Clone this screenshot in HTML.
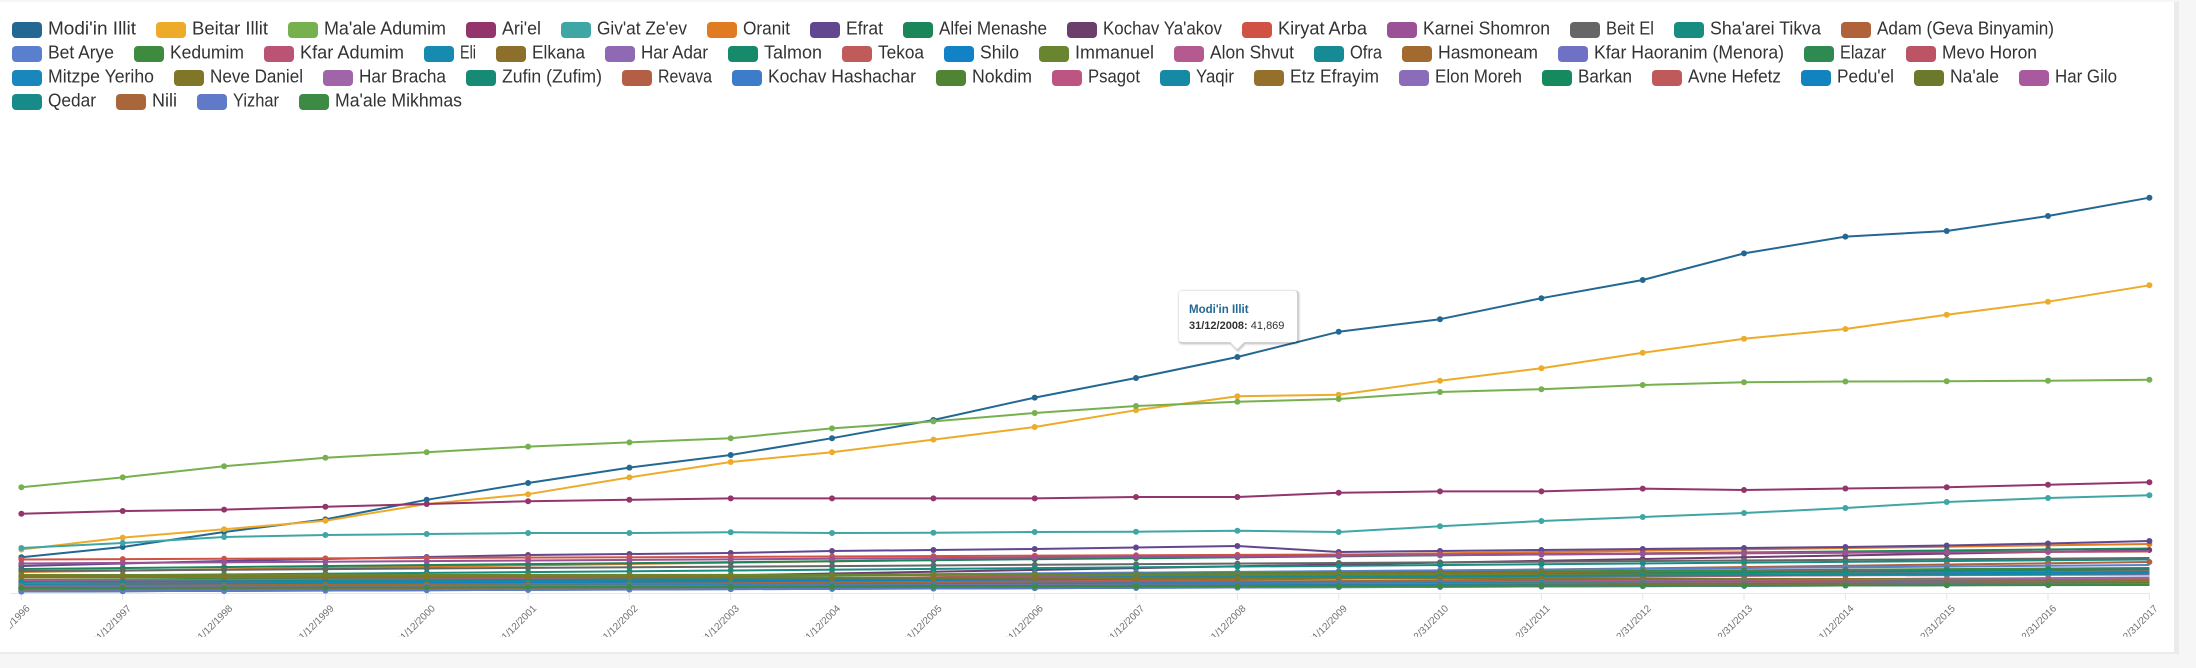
<!DOCTYPE html>
<html>
<head>
<meta charset="utf-8">
<style>
html,body{margin:0;padding:0;background:#f6f6f6;}
body{width:2196px;height:668px;overflow:hidden;}
svg{display:block;}
.lg text{font-family:"Liberation Sans",sans-serif;font-size:18.5px;fill:#333;}
.xl text{font-family:"Liberation Sans",sans-serif;font-size:10px;fill:#707070;}
.l{stroke-width:2;fill:none;}
.d{stroke-width:6;stroke-linecap:round;stroke-dasharray:0 101.34;fill:none;}
.pl{stroke-width:2;fill:none;stroke-linejoin:round;}
</style>
</head>
<body>
<svg width="2196" height="668" viewBox="0 0 2196 668" xmlns="http://www.w3.org/2000/svg">
<defs>
<clipPath id="lblclip"><rect x="10" y="595" width="2164" height="42"/></clipPath>
<marker id="mA" markerUnits="userSpaceOnUse" markerWidth="8" markerHeight="8" refX="4" refY="4" overflow="visible"><circle cx="4" cy="4" r="3" fill="#236892"/></marker>
<marker id="mB" markerUnits="userSpaceOnUse" markerWidth="8" markerHeight="8" refX="4" refY="4" overflow="visible"><circle cx="4" cy="4" r="3" fill="#eeab29"/></marker>
<marker id="mC" markerUnits="userSpaceOnUse" markerWidth="8" markerHeight="8" refX="4" refY="4" overflow="visible"><circle cx="4" cy="4" r="3" fill="#76b04f"/></marker>
<marker id="mD" markerUnits="userSpaceOnUse" markerWidth="8" markerHeight="8" refX="4" refY="4" overflow="visible"><circle cx="4" cy="4" r="3" fill="#94346c"/></marker>
<marker id="mE" markerUnits="userSpaceOnUse" markerWidth="8" markerHeight="8" refX="4" refY="4" overflow="visible"><circle cx="4" cy="4" r="3" fill="#3fa6a6"/></marker>
<marker id="mF" markerUnits="userSpaceOnUse" markerWidth="8" markerHeight="8" refX="4" refY="4" overflow="visible"><circle cx="4" cy="4" r="3" fill="#624790"/></marker>
</defs>
<rect x="0" y="0" width="2196" height="668" fill="#f6f6f6"/>
<rect x="2174" y="2" width="5" height="652" fill="#ebebeb"/>
<rect x="0" y="652" width="2179" height="2" fill="#ebebeb"/>
<rect x="0" y="2" width="2174" height="650" fill="#ffffff"/>

<g class="lg">
<rect x="12" y="22" width="30" height="16" rx="4" fill="#236892"/><text x="48" y="34.5" textLength="88" lengthAdjust="spacingAndGlyphs">Modi'in Illit</text>
<rect x="156" y="22" width="30" height="16" rx="4" fill="#eeab29"/><text x="192" y="34.5" textLength="76" lengthAdjust="spacingAndGlyphs">Beitar Illit</text>
<rect x="288" y="22" width="30" height="16" rx="4" fill="#76b04f"/><text x="324" y="34.5" textLength="122" lengthAdjust="spacingAndGlyphs">Ma'ale Adumim</text>
<rect x="466" y="22" width="30" height="16" rx="4" fill="#94346c"/><text x="502" y="34.5" textLength="39" lengthAdjust="spacingAndGlyphs">Ari'el</text>
<rect x="561" y="22" width="30" height="16" rx="4" fill="#3fa6a6"/><text x="597" y="34.5" textLength="90" lengthAdjust="spacingAndGlyphs">Giv'at Ze'ev</text>
<rect x="707" y="22" width="30" height="16" rx="4" fill="#e07b21"/><text x="743" y="34.5" textLength="47" lengthAdjust="spacingAndGlyphs">Oranit</text>
<rect x="810" y="22" width="30" height="16" rx="4" fill="#624790"/><text x="846" y="34.5" textLength="37" lengthAdjust="spacingAndGlyphs">Efrat</text>
<rect x="903" y="22" width="30" height="16" rx="4" fill="#1a8659"/><text x="939" y="34.5" textLength="108" lengthAdjust="spacingAndGlyphs">Alfei Menashe</text>
<rect x="1067" y="22" width="30" height="16" rx="4" fill="#6c3e6c"/><text x="1103" y="34.5" textLength="119" lengthAdjust="spacingAndGlyphs">Kochav Ya'akov</text>
<rect x="1242" y="22" width="30" height="16" rx="4" fill="#cf5244"/><text x="1278" y="34.5" textLength="89" lengthAdjust="spacingAndGlyphs">Kiryat Arba</text>
<rect x="1387" y="22" width="30" height="16" rx="4" fill="#9a5196"/><text x="1423" y="34.5" textLength="127" lengthAdjust="spacingAndGlyphs">Karnei Shomron</text>
<rect x="1570" y="22" width="30" height="16" rx="4" fill="#666666"/><text x="1606" y="34.5" textLength="48" lengthAdjust="spacingAndGlyphs">Beit El</text>
<rect x="1674" y="22" width="30" height="16" rx="4" fill="#178c80"/><text x="1710" y="34.5" textLength="111" lengthAdjust="spacingAndGlyphs">Sha'arei Tikva</text>
<rect x="1841" y="22" width="30" height="16" rx="4" fill="#b0633a"/><text x="1877" y="34.5" textLength="177" lengthAdjust="spacingAndGlyphs">Adam (Geva Binyamin)</text>
<rect x="12" y="46" width="30" height="16" rx="4" fill="#5b7fcf"/><text x="48" y="58.5" textLength="66" lengthAdjust="spacingAndGlyphs">Bet Arye</text>
<rect x="134" y="46" width="30" height="16" rx="4" fill="#3e8a3e"/><text x="170" y="58.5" textLength="74" lengthAdjust="spacingAndGlyphs">Kedumim</text>
<rect x="264" y="46" width="30" height="16" rx="4" fill="#bb5474"/><text x="300" y="58.5" textLength="104" lengthAdjust="spacingAndGlyphs">Kfar Adumim</text>
<rect x="424" y="46" width="30" height="16" rx="4" fill="#168aaf"/><text x="460" y="58.5" textLength="16" lengthAdjust="spacingAndGlyphs">Eli</text>
<rect x="496" y="46" width="30" height="16" rx="4" fill="#8b6f2a"/><text x="532" y="58.5" textLength="53" lengthAdjust="spacingAndGlyphs">Elkana</text>
<rect x="605" y="46" width="30" height="16" rx="4" fill="#8f69b4"/><text x="641" y="58.5" textLength="67" lengthAdjust="spacingAndGlyphs">Har Adar</text>
<rect x="728" y="46" width="30" height="16" rx="4" fill="#168a6b"/><text x="764" y="58.5" textLength="58" lengthAdjust="spacingAndGlyphs">Talmon</text>
<rect x="842" y="46" width="30" height="16" rx="4" fill="#bf5b58"/><text x="878" y="58.5" textLength="46" lengthAdjust="spacingAndGlyphs">Tekoa</text>
<rect x="944" y="46" width="30" height="16" rx="4" fill="#1282c7"/><text x="980" y="58.5" textLength="39" lengthAdjust="spacingAndGlyphs">Shilo</text>
<rect x="1039" y="46" width="30" height="16" rx="4" fill="#6a8530"/><text x="1075" y="58.5" textLength="79" lengthAdjust="spacingAndGlyphs">Immanuel</text>
<rect x="1174" y="46" width="30" height="16" rx="4" fill="#b45a90"/><text x="1210" y="58.5" textLength="84" lengthAdjust="spacingAndGlyphs">Alon Shvut</text>
<rect x="1314" y="46" width="30" height="16" rx="4" fill="#168a95"/><text x="1350" y="58.5" textLength="32" lengthAdjust="spacingAndGlyphs">Ofra</text>
<rect x="1402" y="46" width="30" height="16" rx="4" fill="#a36a30"/><text x="1438" y="58.5" textLength="100" lengthAdjust="spacingAndGlyphs">Hasmoneam</text>
<rect x="1558" y="46" width="30" height="16" rx="4" fill="#6f72c4"/><text x="1594" y="58.5" textLength="190" lengthAdjust="spacingAndGlyphs">Kfar Haoranim (Menora)</text>
<rect x="1804" y="46" width="30" height="16" rx="4" fill="#2e8a50"/><text x="1840" y="58.5" textLength="46" lengthAdjust="spacingAndGlyphs">Elazar</text>
<rect x="1906" y="46" width="30" height="16" rx="4" fill="#bd5466"/><text x="1942" y="58.5" textLength="95" lengthAdjust="spacingAndGlyphs">Mevo Horon</text>
<rect x="12" y="70" width="30" height="16" rx="4" fill="#1987bb"/><text x="48" y="82.5" textLength="106" lengthAdjust="spacingAndGlyphs">Mitzpe Yeriho</text>
<rect x="174" y="70" width="30" height="16" rx="4" fill="#7f7628"/><text x="210" y="82.5" textLength="93" lengthAdjust="spacingAndGlyphs">Neve Daniel</text>
<rect x="323" y="70" width="30" height="16" rx="4" fill="#a064a8"/><text x="359" y="82.5" textLength="87" lengthAdjust="spacingAndGlyphs">Har Bracha</text>
<rect x="466" y="70" width="30" height="16" rx="4" fill="#168a75"/><text x="502" y="82.5" textLength="100" lengthAdjust="spacingAndGlyphs">Zufin (Zufim)</text>
<rect x="622" y="70" width="30" height="16" rx="4" fill="#b45f45"/><text x="658" y="82.5" textLength="54" lengthAdjust="spacingAndGlyphs">Revava</text>
<rect x="732" y="70" width="30" height="16" rx="4" fill="#3d7cc8"/><text x="768" y="82.5" textLength="148" lengthAdjust="spacingAndGlyphs">Kochav Hashachar</text>
<rect x="936" y="70" width="30" height="16" rx="4" fill="#4f8434"/><text x="972" y="82.5" textLength="60" lengthAdjust="spacingAndGlyphs">Nokdim</text>
<rect x="1052" y="70" width="30" height="16" rx="4" fill="#bd5583"/><text x="1088" y="82.5" textLength="52" lengthAdjust="spacingAndGlyphs">Psagot</text>
<rect x="1160" y="70" width="30" height="16" rx="4" fill="#168aa5"/><text x="1196" y="82.5" textLength="38" lengthAdjust="spacingAndGlyphs">Yaqir</text>
<rect x="1254" y="70" width="30" height="16" rx="4" fill="#94702c"/><text x="1290" y="82.5" textLength="89" lengthAdjust="spacingAndGlyphs">Etz Efrayim</text>
<rect x="1399" y="70" width="30" height="16" rx="4" fill="#8a6cb8"/><text x="1435" y="82.5" textLength="87" lengthAdjust="spacingAndGlyphs">Elon Moreh</text>
<rect x="1542" y="70" width="30" height="16" rx="4" fill="#168a5e"/><text x="1578" y="82.5" textLength="54" lengthAdjust="spacingAndGlyphs">Barkan</text>
<rect x="1652" y="70" width="30" height="16" rx="4" fill="#c05a5a"/><text x="1688" y="82.5" textLength="93" lengthAdjust="spacingAndGlyphs">Avne Hefetz</text>
<rect x="1801" y="70" width="30" height="16" rx="4" fill="#1383c0"/><text x="1837" y="82.5" textLength="57" lengthAdjust="spacingAndGlyphs">Pedu'el</text>
<rect x="1914" y="70" width="30" height="16" rx="4" fill="#6b7a2a"/><text x="1950" y="82.5" textLength="49" lengthAdjust="spacingAndGlyphs">Na'ale</text>
<rect x="2019" y="70" width="30" height="16" rx="4" fill="#a9599e"/><text x="2055" y="82.5" textLength="62" lengthAdjust="spacingAndGlyphs">Har Gilo</text>
<rect x="12" y="94" width="30" height="16" rx="4" fill="#178a8a"/><text x="48" y="106.5" textLength="48" lengthAdjust="spacingAndGlyphs">Qedar</text>
<rect x="116" y="94" width="30" height="16" rx="4" fill="#a8663a"/><text x="152" y="106.5" textLength="25" lengthAdjust="spacingAndGlyphs">Nili</text>
<rect x="197" y="94" width="30" height="16" rx="4" fill="#5f7ac8"/><text x="233" y="106.5" textLength="46" lengthAdjust="spacingAndGlyphs">Yizhar</text>
<rect x="299" y="94" width="30" height="16" rx="4" fill="#3d8a45"/><text x="335" y="106.5" textLength="127" lengthAdjust="spacingAndGlyphs">Ma'ale Mikhmas</text>
</g>

<!-- x axis -->
<line x1="10" y1="593.5" x2="2150" y2="593.5" stroke="#e6e6e6" stroke-width="1"/>
<path d="M21.4 593V600M122.7 593V600M224.1 593V600M325.4 593V600M426.7 593V600M528.1 593V600M629.4 593V600M730.7 593V600M832 593V600M933.4 593V600M1034.7 593V600M1136 593V600M1237.4 593V600M1338.7 593V600M1440 593V600M1541.4 593V600M1642.7 593V600M1744 593V600M1845.4 593V600M1946.7 593V600M2048 593V600M2149.4 593V600" stroke="#e6e6e6" stroke-width="1" fill="none"/>

<!-- big series -->
<polyline class="pl" stroke="#236892" marker-start="url(#mA)" marker-mid="url(#mA)" marker-end="url(#mA)" points="21.4,557.3 122.7,547 224.1,532 325.4,519.4 426.7,499.8 528.1,483 629.4,467.6 730.7,455 832,438.2 933.4,420 1034.7,397.6 1136,378 1237.4,357 1338.7,331.8 1440,319.2 1541.4,298.2 1642.7,280 1744,253.4 1845.4,236.6 1946.7,231 2048,216 2149.4,197.7"/>
<polyline class="pl" stroke="#eeab29" marker-start="url(#mB)" marker-mid="url(#mB)" marker-end="url(#mB)" points="21.4,549.5 122.7,537.6 224.1,529.2 325.4,520.8 426.7,504 528.1,494.2 629.4,477.4 730.7,462 832,452.2 933.4,439.6 1034.7,427 1136,410.2 1237.4,396.2 1338.7,394.8 1440,380.8 1541.4,368.2 1642.7,352.8 1744,338.8 1845.4,329 1946.7,314.7 2048,301.7 2149.4,285.3"/>
<polyline class="pl" stroke="#76b04f" marker-start="url(#mC)" marker-mid="url(#mC)" marker-end="url(#mC)" points="21.4,487.2 122.7,477.4 224.1,466.2 325.4,457.8 426.7,452.2 528.1,446.6 629.4,442.4 730.7,438.2 832,428.4 933.4,421.4 1034.7,413 1136,406 1237.4,401.8 1338.7,399 1440,392 1541.4,389.2 1642.7,385 1744,382.2 1845.4,381.5 1946.7,381.3 2048,380.7 2149.4,379.7"/>
<polyline class="pl" stroke="#94346c" marker-start="url(#mD)" marker-mid="url(#mD)" marker-end="url(#mD)" points="21.4,513.8 122.7,511 224.1,509.6 325.4,506.8 426.7,504 528.1,501.2 629.4,499.8 730.7,498.4 832,498.4 933.4,498.4 1034.7,498.4 1136,497 1237.4,497 1338.7,492.8 1440,491.4 1541.4,491.4 1642.7,488.6 1744,490 1845.4,488.5 1946.7,487.3 2048,484.7 2149.4,482.3"/>
<polyline class="pl" stroke="#3fa6a6" marker-start="url(#mE)" marker-mid="url(#mE)" marker-end="url(#mE)" points="21.4,548 122.7,543 224.1,537 325.4,535 426.7,534 528.1,533 629.4,533 730.7,532.3 832,533 933.4,532.7 1034.7,532 1136,531.7 1237.4,530.7 1338.7,532 1440,526.3 1541.4,521 1642.7,517 1744,513 1845.4,508 1946.7,502 2048,498 2149.4,495.3"/>

<!-- minor series -->
<g>
<line class="l" stroke="#e07b21" x1="21.4" y1="572" x2="2149.4" y2="544"/><line class="d" stroke="#e07b21" x1="21.4" y1="572" x2="2149.4" y2="544"/>
<polyline class="pl" stroke="#624790" marker-start="url(#mF)" marker-mid="url(#mF)" marker-end="url(#mF)" points="21.4,566 122.7,563.5 224.1,561 325.4,559 426.7,557 528.1,555 629.4,554 730.7,553 832,551 933.4,550 1034.7,549 1136,547.5 1237.4,546 1338.7,552 1440,551 1541.4,550 1642.7,549 1744,548 1845.4,547 1946.7,545.5 2048,543.5 2149.4,541"/>
<line class="l" stroke="#1a8659" x1="21.4" y1="569" x2="2149.4" y2="548.5"/><line class="d" stroke="#1a8659" x1="21.4" y1="569" x2="2149.4" y2="548.5"/>
<line class="l" stroke="#6c3e6c" x1="21.4" y1="588" x2="2149.4" y2="550"/><line class="d" stroke="#6c3e6c" x1="21.4" y1="588" x2="2149.4" y2="550"/>
<line class="l" stroke="#cf5244" x1="21.4" y1="559.5" x2="2149.4" y2="551.5"/><line class="d" stroke="#cf5244" x1="21.4" y1="559.5" x2="2149.4" y2="551.5"/>
<line class="l" stroke="#9a5196" x1="21.4" y1="563.5" x2="2149.4" y2="551"/><line class="d" stroke="#9a5196" x1="21.4" y1="563.5" x2="2149.4" y2="551"/>
<line class="l" stroke="#666666" x1="21.4" y1="571" x2="2149.4" y2="558"/><line class="d" stroke="#666666" x1="21.4" y1="571" x2="2149.4" y2="558"/>
<line class="l" stroke="#178c80" x1="21.4" y1="576" x2="2149.4" y2="559.5"/><line class="d" stroke="#178c80" x1="21.4" y1="576" x2="2149.4" y2="559.5"/>
<line class="l" stroke="#b0633a" x1="21.4" y1="588.5" x2="2149.4" y2="562"/><line class="d" stroke="#b0633a" x1="21.4" y1="588.5" x2="2149.4" y2="562"/>
<line class="l" stroke="#5b7fcf" x1="21.4" y1="581" x2="2149.4" y2="565"/><line class="d" stroke="#5b7fcf" x1="21.4" y1="581" x2="2149.4" y2="565"/>
<line class="l" stroke="#3e8a3e" x1="21.4" y1="580" x2="2149.4" y2="568"/><line class="d" stroke="#3e8a3e" x1="21.4" y1="580" x2="2149.4" y2="568"/>
<line class="l" stroke="#bb5474" x1="21.4" y1="584" x2="2149.4" y2="569"/><line class="d" stroke="#bb5474" x1="21.4" y1="584" x2="2149.4" y2="569"/>
<line class="l" stroke="#168aaf" x1="21.4" y1="585" x2="2149.4" y2="569.5"/><line class="d" stroke="#168aaf" x1="21.4" y1="585" x2="2149.4" y2="569.5"/>
<line class="l" stroke="#8b6f2a" x1="21.4" y1="577.5" x2="2149.4" y2="571"/><line class="d" stroke="#8b6f2a" x1="21.4" y1="577.5" x2="2149.4" y2="571"/>
<line class="l" stroke="#8f69b4" x1="21.4" y1="587.5" x2="2149.4" y2="571.5"/><line class="d" stroke="#8f69b4" x1="21.4" y1="587.5" x2="2149.4" y2="571.5"/>
<line class="l" stroke="#168a6b" x1="21.4" y1="587.5" x2="2149.4" y2="569"/><line class="d" stroke="#168a6b" x1="21.4" y1="587.5" x2="2149.4" y2="569"/>
<line class="l" stroke="#bf5b58" x1="21.4" y1="588" x2="2149.4" y2="573"/><line class="d" stroke="#bf5b58" x1="21.4" y1="588" x2="2149.4" y2="573"/>
<line class="l" stroke="#1282c7" x1="21.4" y1="586" x2="2149.4" y2="572"/><line class="d" stroke="#1282c7" x1="21.4" y1="586" x2="2149.4" y2="572"/>
<line class="l" stroke="#6a8530" x1="21.4" y1="575" x2="2149.4" y2="574.5"/><line class="d" stroke="#6a8530" x1="21.4" y1="575" x2="2149.4" y2="574.5"/>
<line class="l" stroke="#b45a90" x1="21.4" y1="580.5" x2="2149.4" y2="574.5"/><line class="d" stroke="#b45a90" x1="21.4" y1="580.5" x2="2149.4" y2="574.5"/>
<line class="l" stroke="#168a95" x1="21.4" y1="582" x2="2149.4" y2="573.5"/><line class="d" stroke="#168a95" x1="21.4" y1="582" x2="2149.4" y2="573.5"/>
<line class="l" stroke="#a36a30" x1="21.4" y1="586" x2="2149.4" y2="578"/><line class="d" stroke="#a36a30" x1="21.4" y1="586" x2="2149.4" y2="578"/>
<line class="l" stroke="#6f72c4" x1="21.4" y1="591" x2="2149.4" y2="577.5"/><line class="d" stroke="#6f72c4" x1="21.4" y1="591" x2="2149.4" y2="577.5"/>
<line class="l" stroke="#2e8a50" x1="21.4" y1="588.5" x2="2149.4" y2="578.5"/><line class="d" stroke="#2e8a50" x1="21.4" y1="588.5" x2="2149.4" y2="578.5"/>
<line class="l" stroke="#bd5466" x1="21.4" y1="588" x2="2149.4" y2="578.5"/><line class="d" stroke="#bd5466" x1="21.4" y1="588" x2="2149.4" y2="578.5"/>
<line class="l" stroke="#1987bb" x1="21.4" y1="587.5" x2="2149.4" y2="579.5"/><line class="d" stroke="#1987bb" x1="21.4" y1="587.5" x2="2149.4" y2="579.5"/>
<line class="l" stroke="#7f7628" x1="21.4" y1="576.5" x2="2149.4" y2="579.5"/><line class="d" stroke="#7f7628" x1="21.4" y1="576.5" x2="2149.4" y2="579.5"/>
<line class="l" stroke="#a064a8" x1="21.4" y1="590.5" x2="2149.4" y2="578.5"/><line class="d" stroke="#a064a8" x1="21.4" y1="590.5" x2="2149.4" y2="578.5"/>
<line class="l" stroke="#168a75" x1="21.4" y1="589" x2="2149.4" y2="582.5"/><line class="d" stroke="#168a75" x1="21.4" y1="589" x2="2149.4" y2="582.5"/>
<line class="l" stroke="#b45f45" x1="21.4" y1="591" x2="2149.4" y2="579.5"/><line class="d" stroke="#b45f45" x1="21.4" y1="591" x2="2149.4" y2="579.5"/>
<line class="l" stroke="#3d7cc8" x1="21.4" y1="587.5" x2="2149.4" y2="581"/><line class="d" stroke="#3d7cc8" x1="21.4" y1="587.5" x2="2149.4" y2="581"/>
<line class="l" stroke="#4f8434" x1="21.4" y1="590" x2="2149.4" y2="581"/><line class="d" stroke="#4f8434" x1="21.4" y1="590" x2="2149.4" y2="581"/>
<line class="l" stroke="#bd5583" x1="21.4" y1="588" x2="2149.4" y2="581.5"/><line class="d" stroke="#bd5583" x1="21.4" y1="588" x2="2149.4" y2="581.5"/>
<line class="l" stroke="#168aa5" x1="21.4" y1="588" x2="2149.4" y2="581"/><line class="d" stroke="#168aa5" x1="21.4" y1="588" x2="2149.4" y2="581"/>
<line class="l" stroke="#94702c" x1="21.4" y1="590.5" x2="2149.4" y2="581"/><line class="d" stroke="#94702c" x1="21.4" y1="590.5" x2="2149.4" y2="581"/>
<line class="l" stroke="#8a6cb8" x1="21.4" y1="587.5" x2="2149.4" y2="582.5"/><line class="d" stroke="#8a6cb8" x1="21.4" y1="587.5" x2="2149.4" y2="582.5"/>
<line class="l" stroke="#168a5e" x1="21.4" y1="588.5" x2="2149.4" y2="583"/><line class="d" stroke="#168a5e" x1="21.4" y1="588.5" x2="2149.4" y2="583"/>
<line class="l" stroke="#c05a5a" x1="21.4" y1="590" x2="2149.4" y2="582.5"/><line class="d" stroke="#c05a5a" x1="21.4" y1="590" x2="2149.4" y2="582.5"/>
<line class="l" stroke="#1383c0" x1="21.4" y1="589" x2="2149.4" y2="583"/><line class="d" stroke="#1383c0" x1="21.4" y1="589" x2="2149.4" y2="583"/>
<line class="l" stroke="#6b7a2a" x1="21.4" y1="591.5" x2="2149.4" y2="583"/><line class="d" stroke="#6b7a2a" x1="21.4" y1="591.5" x2="2149.4" y2="583"/>
<line class="l" stroke="#a9599e" x1="21.4" y1="591.5" x2="2149.4" y2="584"/><line class="d" stroke="#a9599e" x1="21.4" y1="591.5" x2="2149.4" y2="584"/>
<line class="l" stroke="#178a8a" x1="21.4" y1="591.5" x2="2149.4" y2="584.5"/><line class="d" stroke="#178a8a" x1="21.4" y1="591.5" x2="2149.4" y2="584.5"/>
<line class="l" stroke="#a8663a" x1="21.4" y1="590" x2="2149.4" y2="584"/><line class="d" stroke="#a8663a" x1="21.4" y1="590" x2="2149.4" y2="584"/>
<line class="l" stroke="#5f7ac8" x1="21.4" y1="591.5" x2="2149.4" y2="584.5"/><line class="d" stroke="#5f7ac8" x1="21.4" y1="591.5" x2="2149.4" y2="584.5"/>
<line class="l" stroke="#3d8a45" x1="21.4" y1="588" x2="2149.4" y2="585"/><line class="d" stroke="#3d8a45" x1="21.4" y1="588" x2="2149.4" y2="585"/>
</g>

<g class="xl" clip-path="url(#lblclip)">
<text text-anchor="end" transform="translate(30.4,609) rotate(-45)">31/12/1996</text>
<text text-anchor="end" transform="translate(131.7,609) rotate(-45)">31/12/1997</text>
<text text-anchor="end" transform="translate(233.1,609) rotate(-45)">31/12/1998</text>
<text text-anchor="end" transform="translate(334.4,609) rotate(-45)">31/12/1999</text>
<text text-anchor="end" transform="translate(435.7,609) rotate(-45)">31/12/2000</text>
<text text-anchor="end" transform="translate(537.1,609) rotate(-45)">31/12/2001</text>
<text text-anchor="end" transform="translate(638.4,609) rotate(-45)">31/12/2002</text>
<text text-anchor="end" transform="translate(739.7,609) rotate(-45)">31/12/2003</text>
<text text-anchor="end" transform="translate(841,609) rotate(-45)">31/12/2004</text>
<text text-anchor="end" transform="translate(942.4,609) rotate(-45)">31/12/2005</text>
<text text-anchor="end" transform="translate(1043.7,609) rotate(-45)">31/12/2006</text>
<text text-anchor="end" transform="translate(1145,609) rotate(-45)">31/12/2007</text>
<text text-anchor="end" transform="translate(1246.4,609) rotate(-45)">31/12/2008</text>
<text text-anchor="end" transform="translate(1347.7,609) rotate(-45)">31/12/2009</text>
<text text-anchor="end" transform="translate(1449,609) rotate(-45)">12/31/2010</text>
<text text-anchor="end" transform="translate(1550.4,609) rotate(-45)">12/31/2011</text>
<text text-anchor="end" transform="translate(1651.7,609) rotate(-45)">12/31/2012</text>
<text text-anchor="end" transform="translate(1753,609) rotate(-45)">12/31/2013</text>
<text text-anchor="end" transform="translate(1854.4,609) rotate(-45)">31/12/2014</text>
<text text-anchor="end" transform="translate(1955.7,609) rotate(-45)">12/31/2015</text>
<text text-anchor="end" transform="translate(2057,609) rotate(-45)">12/31/2016</text>
<text text-anchor="end" transform="translate(2158.4,609) rotate(-45)">12/31/2017</text>
</g>

<!-- tooltip -->
<g>
<path d="M1182,291 H1294 Q1297,291 1297,294 V339 Q1297,342 1294,342 H1244 L1237,349 L1230,342 H1182 Q1179,342 1179,339 V294 Q1179,291 1182,291 Z" transform="translate(1,1)" fill="none" stroke="#000" stroke-opacity="0.05" stroke-width="5"/>
<path d="M1182,291 H1294 Q1297,291 1297,294 V339 Q1297,342 1294,342 H1244 L1237,349 L1230,342 H1182 Q1179,342 1179,339 V294 Q1179,291 1182,291 Z" transform="translate(1,1)" fill="none" stroke="#000" stroke-opacity="0.08" stroke-width="3"/>
<path d="M1182,291 H1294 Q1297,291 1297,294 V339 Q1297,342 1294,342 H1244 L1237,349 L1230,342 H1182 Q1179,342 1179,339 V294 Q1179,291 1182,291 Z" transform="translate(1,1)" fill="none" stroke="#000" stroke-opacity="0.12" stroke-width="1"/>
<path d="M1182,291 H1294 Q1297,291 1297,294 V339 Q1297,342 1294,342 H1244 L1237,349 L1230,342 H1182 Q1179,342 1179,339 V294 Q1179,291 1182,291 Z" fill="#ffffff" fill-opacity="0.97"/>
<text x="1189" y="313" font-family="Liberation Sans, sans-serif" font-size="11.5" font-weight="bold" fill="#236892">Modi'in Illit</text>
<text x="1189" y="329" font-family="Liberation Sans, sans-serif" font-size="11" fill="#333333"><tspan font-weight="bold">31/12/2008:</tspan> 41,869</text>
</g>
</svg>
</body>
</html>
